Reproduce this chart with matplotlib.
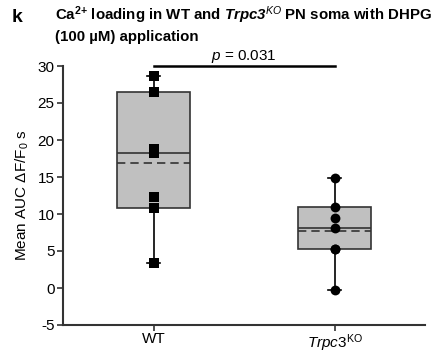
import numpy as np
import matplotlib
matplotlib.use("Agg")
import matplotlib.pyplot as plt

plt.rcParams['font.family'] = ['Liberation Sans', 'DejaVu Sans']
plt.rcParams['mathtext.fontset'] = 'custom'
plt.rcParams['mathtext.rm'] = 'Liberation Sans'
plt.rcParams['mathtext.it'] = 'Liberation Sans:italic'
plt.rcParams['mathtext.bf'] = 'Liberation Sans:bold'
plt.rcParams['mathtext.bfit'] = 'Liberation Sans:italic:bold'

categories = ['WT', r'$\mathit{Trpc3}^{\mathrm{KO}}$']
wt_values = [28.6, 26.5, 18.8, 18.3, 12.3, 10.8, 3.4]
ko_values = [14.9, 11.0, 9.4, 8.1, 5.3, 5.3, -0.3]
series = [wt_values, ko_values]
markers = ['s', 'o']
y_ticks = [-5, 0, 5, 10, 15, 20, 25, 30]
p_text = r'$\it{p}$ = 0.031'

fig = plt.figure(figsize=(4.41, 3.54), dpi=100)
ax = fig.add_axes([63/441, 1-325/354, (425-63)/441, (325-66)/354])

dark = '#333333'
positions = [1, 2]
width = 0.4
stats = []
for vals, lab in zip(series, categories):
    v = np.array(vals)
    q1, med, q3 = np.percentile(v, [25, 50, 75], method='weibull')
    stats.append(dict(med=med, q1=q1, q3=q3, whislo=v.min(), whishi=v.max(),
                      mean=v.mean(), label=lab))

ax.bxp(stats, positions=positions, widths=width, patch_artist=True,
       showmeans=True, meanline=True, showfliers=False,
       boxprops=dict(facecolor='#c0c0c0', edgecolor=dark, linewidth=1.2),
       medianprops=dict(color=dark, linewidth=1.2),
       meanprops=dict(color=dark, linestyle=(0, (5, 3)), linewidth=1.2),
       whiskerprops=dict(color='black', linewidth=1.2),
       capprops=dict(color='black', linewidth=1.2), capwidths=0.07,
       zorder=2)

for pos, vals, m in zip(positions, series, markers):
    ax.scatter([pos]*len(vals), vals, marker=m, s=45 if m == 's' else 50,
               color='black', zorder=4, linewidths=0)

# significance bar
ax.plot([1.0, 2.0], [30, 30], color='black', lw=1.8, clip_on=False, zorder=5)
ax.text(1.5, 30.75, p_text, ha='center', va='baseline', fontsize=11)

ax.set_xlim(0.5, 2.5)
ax.set_ylim(-5, 30)
ax.set_yticks(y_ticks)
ax.set_yticklabels([str(t) for t in y_ticks], fontsize=11)
ax.set_xticks(positions)
ax.set_xticklabels(categories, fontsize=11)
ax.spines['top'].set_visible(False)
ax.spines['right'].set_visible(False)
for s in ['left', 'bottom']:
    ax.spines[s].set_color(dark)
    ax.spines[s].set_linewidth(1.5)
ax.tick_params(axis='both', colors=dark, length=4, width=1.2, labelcolor='black')
ax.tick_params(axis='x', pad=1)
ax.tick_params(axis='y', pad=2)
ax.set_ylabel(r'Mean AUC ΔF/F$_0$ s', fontsize=11, labelpad=5)

fig.text(12/441, 1-18/354, 'k', fontsize=14, fontweight='bold', va='center', ha='left')
fig.text(55/441, 1-15/354,
         r'Ca$^{\mathbf{2}\mathbf{+}}$ loading in WT and $\mathbfit{Trpc3}^{\mathit{KO}}$ PN soma with DHPG',
         fontsize=10.8, fontweight='bold', va='center', ha='left')
fig.text(55/441, 1-37/354, '(100 µM) application',
         fontsize=10.8, fontweight='bold', va='center', ha='left')

fig.savefig('out.png', dpi=100)
